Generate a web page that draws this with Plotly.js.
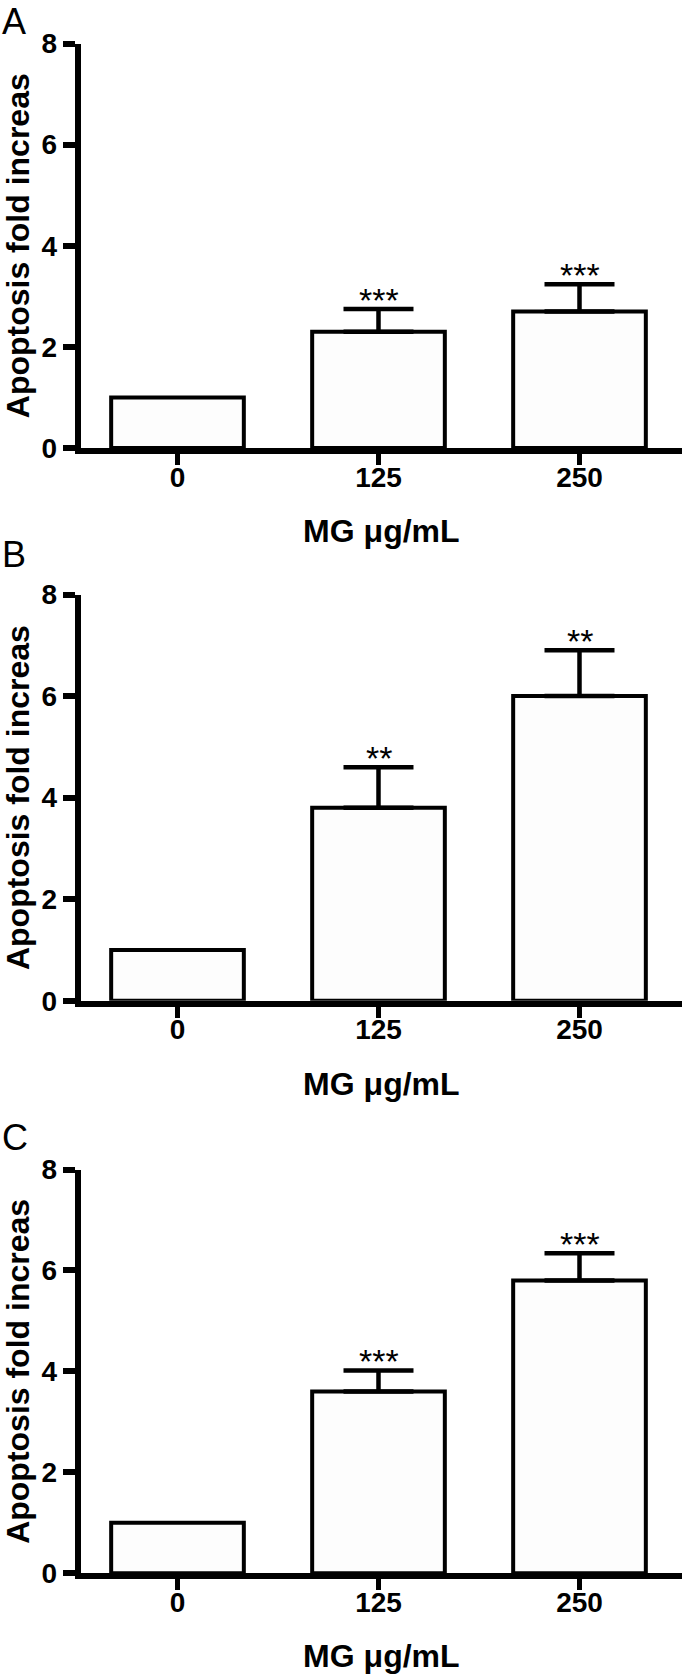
<!DOCTYPE html>
<html>
<head>
<meta charset="utf-8">
<script src="https://cdn.plot.ly/plotly-3.0.1.min.js"></script>
<style>
  html, body { margin: 0; padding: 0; background: #ffffff; }
  #chart { width: 685px; height: 1677px; }
</style>
</head>
<body>
<div id="chart"></div>
<script>
// ---- data ----
const categories = ['0', '125', '250'];
const panelLabels = ['A', 'B', 'C'];

const valuesA = [1.0, 2.3, 2.7];
const errorsA = [NaN, 0.45, 0.54];
const starsA  = ['', '***', '***'];

const valuesB = [1.0, 3.8, 6.0];
const errorsB = [NaN, 0.8, 0.9];
const starsB  = ['', '**', '**'];

const valuesC = [1.0, 3.6, 5.8];
const errorsC = [NaN, 0.42, 0.54];
const starsC  = ['', '***', '***'];

const yTickVals = [0, 2, 4, 6, 8];
const yTitle = 'Apoptosis fold increas';
const xTitle = 'MG \u03bcg/mL';

// ---- layout geometry (pixels) ----
const W = 685, H = 1677;
const FONT = 'Liberation Sans, Arial, Helvetica, sans-serif';
const plotLeft = 80.7, plotRight = 682;
const catStep = 201, firstCat = 177.5;
const panelsPx = [
  { top: 43.5,   bottom: 448,    letterTop: 0 },
  { top: 594.5,  bottom: 1000.7, letterTop: 533 },
  { top: 1169.5, bottom: 1573.3, letterTop: 1116 }
];
const xRange = [-(firstCat - plotLeft) / catStep, (plotRight - firstCat) / catStep];

const panelData = [
  { v: valuesA, e: errorsA, s: starsA },
  { v: valuesB, e: errorsB, s: starsB },
  { v: valuesC, e: errorsC, s: starsC }
];

const traces = [];
const layout = {
  width: W, height: H,
  margin: { l: 0, r: 0, t: 0, b: 0, pad: 0 },
  paper_bgcolor: '#ffffff',
  plot_bgcolor: '#ffffff',
  showlegend: false,
  annotations: []
};

panelData.forEach((pd, i) => {
  const sfx = i === 0 ? '' : String(i + 1);
  const p = panelsPx[i];
  traces.push({
    type: 'bar',
    x: categories,
    y: pd.v,
    xaxis: 'x' + sfx,
    yaxis: 'y' + sfx,
    width: 0.66,
    marker: { color: '#fdfdfd', line: { color: '#000000', width: 4 } },
    error_y: {
      type: 'data', array: pd.e, symmetric: false,
      color: '#000000', thickness: 4.5, width: 35
    },
    hoverinfo: 'skip'
  });

  layout['xaxis' + sfx] = {
    domain: [plotLeft / W, plotRight / W],
    anchor: 'y' + sfx,
    type: 'category',
    range: xRange,
    showline: true, linewidth: 6, linecolor: '#000000',
    ticks: 'outside', ticklen: 11, tickwidth: 5, tickcolor: '#000000',
    ticklabelstandoff: -12,
    showgrid: false, zeroline: false,
    tickfont: { family: FONT, size: 28, color: '#000000', weight: 'bold' },
    title: { text: xTitle, standoff: 30,
             font: { family: FONT, size: 32, color: '#000000', weight: 'bold' } },
    fixedrange: true
  };
  layout['yaxis' + sfx] = {
    domain: [1 - p.bottom / H, 1 - p.top / H],
    anchor: 'x' + sfx,
    range: [0, 8],
    tickmode: 'array', tickvals: yTickVals, ticktext: yTickVals.map(String),
    showline: true, linewidth: 6, linecolor: '#000000',
    ticks: 'outside', ticklen: 12, tickwidth: 6, tickcolor: '#000000',
    showgrid: false, zeroline: false,
    tickfont: { family: FONT, size: 28, color: '#000000', weight: 'bold' },
    title: { text: yTitle, standoff: 12,
             font: { family: FONT, size: 32, color: '#000000', weight: 'bold' } },
    fixedrange: true
  };

  // panel letter
  layout.annotations.push({
    text: panelLabels[i], showarrow: false,
    xref: 'paper', yref: 'paper', x: 1 / W, y: 1 - p.letterTop / H,
    xanchor: 'left', yanchor: 'top', borderpad: 0,
    font: { family: FONT, size: 36, color: '#000000' }
  });

  // significance stars (x given as category index)
  categories.forEach((c, j) => {
    if (!pd.s[j]) return;
    layout.annotations.push({
      text: pd.s[j], showarrow: false,
      xref: 'x' + sfx, yref: 'y' + sfx,
      x: j, y: pd.v[j] + pd.e[j],
      xanchor: 'center', yanchor: 'bottom', yshift: -12,
      font: { family: FONT, size: 34, color: '#000000' }
    });
  });
});

Plotly.newPlot('chart', traces, layout, { displayModeBar: false, staticPlot: true });
</script>
</body>
</html>
